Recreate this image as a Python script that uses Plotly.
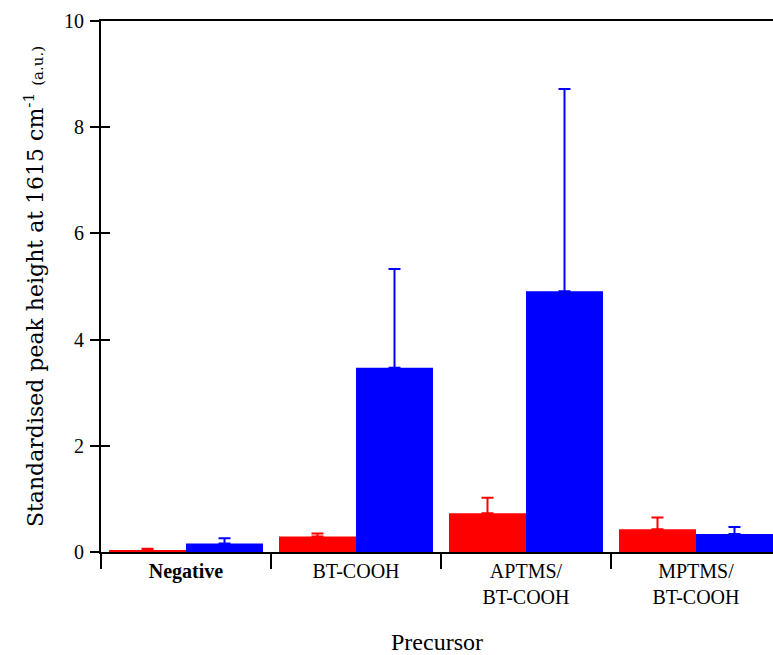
import plotly.graph_objects as go

categories = ["<b>Negative</b>", "BT-COOH", "APTMS/<br>BT-COOH", "MPTMS/<br>BT-COOH"]
red_values = [0.04, 0.29, 0.73, 0.43]
red_errors = [0.02, 0.06, 0.29, 0.22]
blue_values = [0.16, 3.47, 4.91, 0.34]
blue_errors = [0.10, 1.86, 3.81, 0.13]
y_ticks = [0, 2, 4, 6, 8, 10]

fig = go.Figure()
fig.add_trace(go.Bar(
    x=categories, y=red_values, name="red",
    marker=dict(color="#FF0000", line=dict(width=0)),
    error_y=dict(type="data", array=red_errors, arrayminus=[0]*4, symmetric=False,
                 color="#FF0000", thickness=2, width=6),
))
fig.add_trace(go.Bar(
    x=categories, y=blue_values, name="blue",
    marker=dict(color="#0000FF", line=dict(width=0)),
    error_y=dict(type="data", array=blue_errors, arrayminus=[0]*4, symmetric=False,
                 color="#0000FF", thickness=2, width=6),
))
# invisible trace on the overlay axis, which supplies the inner half of the crossing ticks
fig.add_trace(go.Scatter(x=[categories[0]], y=[0], yaxis="y2", mode="markers",
                         marker=dict(opacity=0), showlegend=False, hoverinfo="skip"))

serif = "Liberation Serif"
fig.update_layout(
    width=773, height=655,
    margin=dict(l=101, r=0, t=21, b=103),
    paper_bgcolor="white", plot_bgcolor="white",
    barmode="group", bargap=0.094, bargroupgap=0,
    showlegend=False,
    xaxis=dict(
        type="category", range=[-0.5, 3.453],
        tickson="boundaries", ticks="outside", ticklen=15, tickwidth=2, tickcolor="black",
        showline=True, linewidth=2, linecolor="black", mirror=True,
        showgrid=False, zeroline=False,
        tickfont=dict(family=serif, size=20, color="black"),
        title=dict(text="Precursor", font=dict(family=serif, size=24, color="black"),
                   standoff=26),
    ),
    yaxis=dict(
        range=[0, 10], tickvals=y_ticks,
        ticks="outside", ticklen=9, tickwidth=2, tickcolor="black",
        showline=True, linewidth=2, linecolor="black",
        showgrid=False, zeroline=False,
        tickfont=dict(family=serif, size=20, color="black"),
        ticklabelstandoff=2,
        title=dict(text="Standardised peak height at 1615 cm<sup>-1</sup> <span style='font-size:15px'>(a.u.)</span>",
                   font=dict(family="DejaVu Serif", size=22, color="black"), standoff=14),
    ),
    yaxis2=dict(
        range=[0, 10], tickvals=y_ticks, overlaying="y", side="left", anchor="x",
        ticks="inside", ticklen=9, tickwidth=2, tickcolor="black",
        showticklabels=False, showline=False, showgrid=False, zeroline=False,
    ),
)

fig.write_html("out.html")
